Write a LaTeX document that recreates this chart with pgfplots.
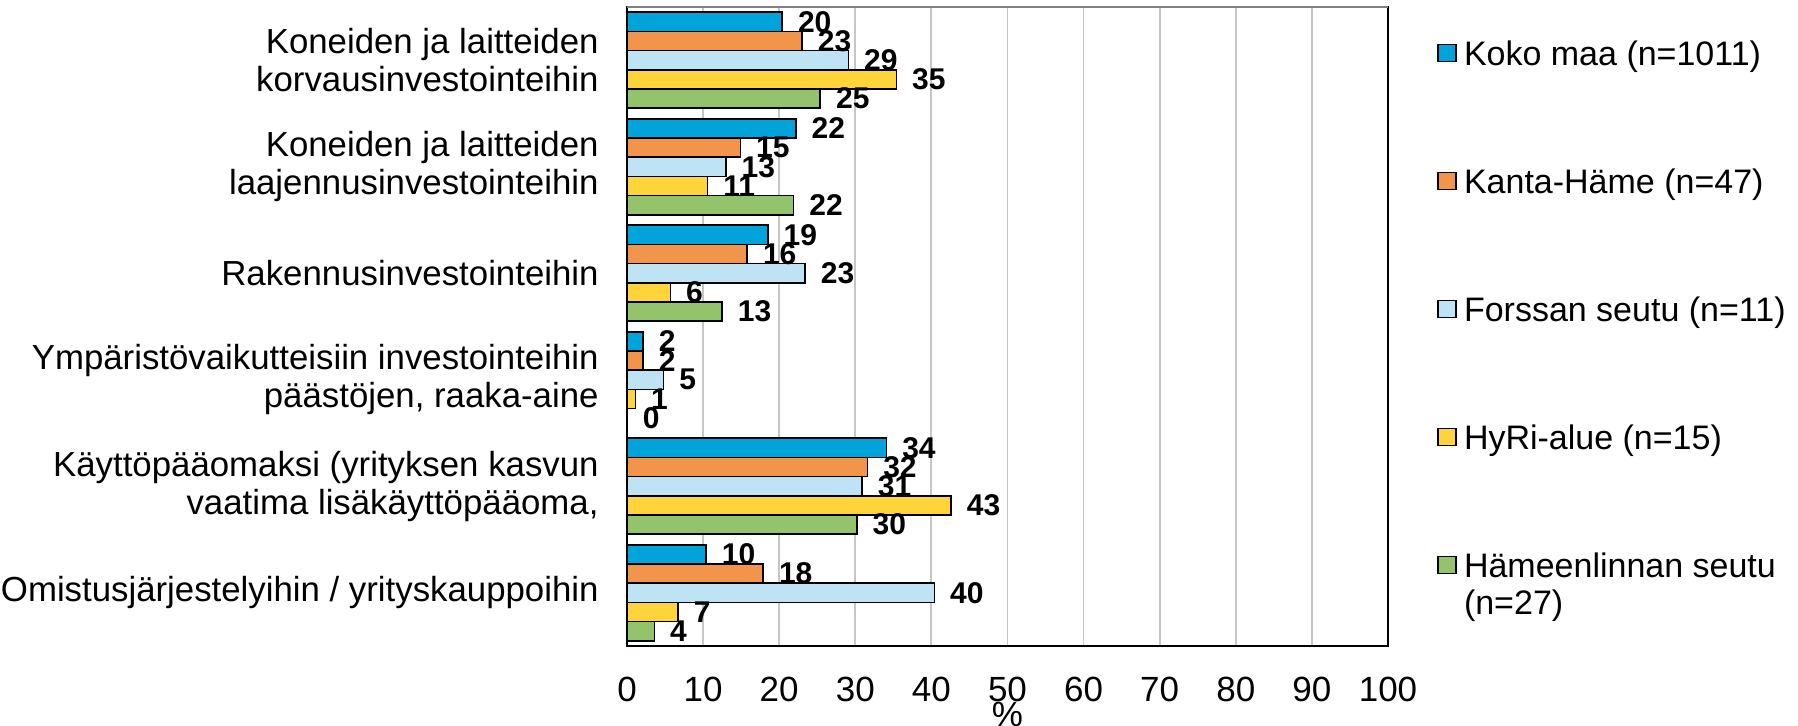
\documentclass[border=0pt]{standalone}
\usepackage{fontspec}
\setmainfont{Liberation Sans}
\usepackage{pgfplots}
\pgfplotsset{compat=1.18}
\definecolor{kokomaa}{HTML}{00A3DA}
\definecolor{kanta}{HTML}{F29449}
\definecolor{forssa}{HTML}{BEE3F4}
\definecolor{hyri}{HTML}{FFD33A}
\definecolor{hml}{HTML}{93C36A}
\pgfplotsset{
  sq legend/.style={
    legend image code/.code={
      \path[draw=none, fill=none] (0pt,0pt) -- (13pt,0pt);
      \draw[##1, line width=0.6pt] (0pt,1.9pt) rectangle (9pt,10.4pt);
    },
  },
}
\begin{document}
\begin{tikzpicture}
\begin{axis}[
  scale only axis,
  width=380.5pt, height=319.5pt,
  xmin=0, xmax=100,
  ymin=-0.5, ymax=5.5,
  xbar, bar width=9.6pt,
  xtick={0,10,...,100},
  ytick={0,...,5},
  yticklabels={
    {Omistusjärjestelyihin / yrityskauppoihin},
    {Käyttöpääomaksi (yrityksen kasvun\\vaatima lisäkäyttöpääoma,},
    {Ympäristövaikutteisiin investointeihin\\päästöjen, raaka-aine},
    {Rakennusinvestointeihin},
    {Koneiden ja laitteiden\\laajennusinvestointeihin},
    {Koneiden ja laitteiden\\korvausinvestointeihin},
  },
  major tick length=0pt,
  xmajorgrids,
  major grid style={line width=0.9pt, draw=gray!45},
  axis line style={black, line width=0.8pt},
  /pgf/number format/assume math mode=true,
  xticklabel style={inner sep=0pt, yshift=-15.5pt, font=\fontsize{17.5}{18.5}\selectfont},
  yticklabel style={inner sep=0pt, xshift=-14pt, align=right, font=\fontsize{17.4}{18.8}\selectfont},
  xlabel={\%},
  xlabel style={at={(axis description cs:0.5,0)}, anchor=north, inner sep=0pt, yshift=-28pt, font=\fontsize{17.5}{18.5}\selectfont},
  nodes near coords,
  point meta=explicit symbolic,
  every node near coord/.append style={font=\fontsize{15}{15}\selectfont\bfseries, anchor=west, inner sep=0pt, xshift=7.5pt},
  clip=false,
  legend style={
    draw=none, fill=none, inner sep=0pt,
    anchor=north west, at={(1.0644,0.9468)},
    row sep=48pt,
    cells={anchor=base west},
    nodes={inner sep=0pt, text height=12pt, text depth=4pt, font=\fontsize{17}{18.5}\selectfont},
  },
  extra description/.code={
    \draw[gray, line width=0.8pt] (rel axis cs:0,1) -- (rel axis cs:1,1);
  },
]
\addplot[fill=kokomaa, draw=black, line width=0.8pt, bar shift=19.2pt, sq legend] coordinates {
  (20.4,5) [20]
  (22.2,4) [22]
  (18.5,3) [19]
  (2.1,2) [2]
  (34.1,1) [34]
  (10.4,0) [10]
};
\addlegendentry{Koko maa (n=1011)}
\addplot[fill=kanta, draw=black, line width=0.8pt, bar shift=9.6pt, sq legend] coordinates {
  (23.0,5) [23]
  (14.9,4) [15]
  (15.8,3) [16]
  (2.1,2) [2]
  (31.6,1) [32]
  (17.9,0) [18]
};
\addlegendentry{Kanta-Häme (n=47)}
\addplot[fill=forssa, draw=black, line width=0.8pt, bar shift=0pt, sq legend] coordinates {
  (29.1,5) [29]
  (13.0,4) [13]
  (23.4,3) [23]
  (4.8,2) [5]
  (30.9,1) [31]
  (40.4,0) [40]
};
\addlegendentry{Forssan seutu (n=11)}
\addplot[fill=hyri, draw=black, line width=0.8pt, bar shift=-9.6pt, sq legend] coordinates {
  (35.4,5) [35]
  (10.6,4) [11]
  (5.7,3) [6]
  (1.1,2) [1]
  (42.6,1) [43]
  (6.7,0) [7]
};
\addlegendentry{HyRi-alue (n=15)}
\addplot[fill=hml, draw=black, line width=0.8pt, bar shift=-19.2pt, sq legend] coordinates {
  (25.4,5) [25]
  (21.9,4) [22]
  (12.5,3) [13]
  (0,2) [0]
  (30.2,1) [30]
  (3.6,0) [4]
};
\addlegendentry{\vtop{\hbox{Hämeenlinnan seutu}\hbox{(n=27)}}}
\end{axis}
\pgfresetboundingbox
\path (-313.5pt,-40pt) rectangle (585.5pt,323pt);
\end{tikzpicture}
\end{document}
